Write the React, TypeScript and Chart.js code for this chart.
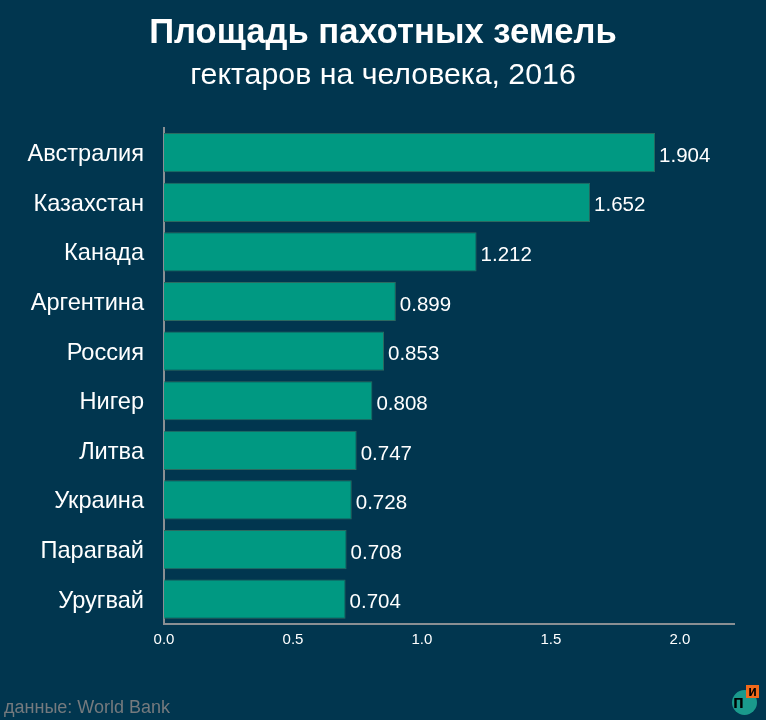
import React, { useEffect, useRef } from "react";
import { Chart, registerables } from "chart.js";

Chart.register(...registerables);

const categories = ["Австралия", "Казахстан", "Канада", "Аргентина", "Россия", "Нигер", "Литва", "Украина", "Парагвай", "Уругвай"];
const values = [1.904, 1.652, 1.212, 0.899, 0.853, 0.808, 0.747, 0.728, 0.708, 0.704];
const xTicks = [0, 0.5, 1.0, 1.5, 2.0];
const titleText = "Площадь пахотных земель";
const subtitleText = "гектаров на человека, 2016";
const sourceText = "данные: World Bank";

const BG = "#01364f";
const FONT = "'Liberation Sans', Arial, Helvetica, sans-serif";

export default function App() {
  const ref = useRef<HTMLCanvasElement | null>(null);

  useEffect(() => {
    document.body.style.margin = "0";
    const canvas = ref.current;
    if (!canvas) return;

    const valueLabels = {
      id: "valueLabels",
      afterDatasetsDraw(chart: any) {
        const ctx = chart.ctx;
        const meta = chart.getDatasetMeta(0);
        ctx.save();
        ctx.fillStyle = "#ffffff";
        ctx.font = `20.5px ${FONT}`;
        ctx.textBaseline = "middle";
        ctx.textAlign = "left";
        meta.data.forEach((bar: any, i: number) => {
          ctx.fillText(values[i].toFixed(3), bar.x + 4, bar.y + 3.5);
        });
        ctx.restore();
      },
    };

    const sourcePlugin = {
      id: "sourceText",
      afterDraw(chart: any) {
        const ctx = chart.ctx;
        ctx.save();
        ctx.fillStyle = "#757a7e";
        ctx.font = `18px ${FONT}`;
        ctx.textBaseline = "middle";
        ctx.textAlign = "left";
        ctx.fillText(sourceText, 4, 708);
        ctx.restore();
      },
    };

    const bgPlugin = {
      id: "bg",
      beforeDraw(chart: any) {
        const ctx = chart.ctx;
        ctx.save();
        ctx.fillStyle = BG;
        ctx.fillRect(0, 0, chart.width, chart.height);
        ctx.restore();
      },
    };

    const chart = new Chart(canvas, {
      type: "bar",
      data: {
        labels: categories,
        datasets: [
          {
            data: values,
            backgroundColor: "#009982",
            borderColor: "#2b6a60",
            borderWidth: 1,
            barPercentage: 0.79,
            categoryPercentage: 1,
          },
        ],
      },
      options: {
        indexAxis: "y",
        animation: false,
        responsive: false,
        maintainAspectRatio: false,
        layout: { padding: 0 },
        plugins: {
          legend: { display: false },
          tooltip: { enabled: false },
          title: {
            display: true,
            text: titleText,
            color: "#ffffff",
            font: { family: FONT, size: 34.6, weight: "bold" },
            padding: { top: 13, bottom: 0 },
          },
          subtitle: {
            display: true,
            text: subtitleText,
            color: "#ffffff",
            font: { family: FONT, size: 30.3, weight: "normal" },
            padding: { top: 3, bottom: 34 },
          },
        },
        scales: {
          x: {
            type: "linear",
            min: 0,
            max: 2.21,
            afterBuildTicks(scale: any) {
              scale.ticks = xTicks.map((v) => ({ value: v }));
            },
            afterFit(scale: any) {
              scale.height = 96;
            },
            grid: { display: false, drawTicks: false },
            border: { display: true, color: "#8a8f93", width: 2 },
            ticks: {
              color: "#ffffff",
              font: { family: FONT, size: 15 },
              padding: 7,
              maxRotation: 0,
              callback: (v: any) => Number(v).toFixed(1),
            },
          },
          y: {
            afterFit(scale: any) {
              scale.width = 164;
            },
            grid: { display: false, drawTicks: false },
            border: { display: true, color: "#8a8f93", width: 2 },
            ticks: {
              color: "#ffffff",
              font: { family: FONT, size: 23.6 },
              padding: 20,
              labelOffset: 2,
            },
          },
          yRight: {
            type: "category",
            position: "right",
            display: true,
            afterFit(scale: any) {
              scale.width = 32;
            },
            grid: { display: false, drawTicks: false },
            border: { display: false },
            ticks: { display: false },
          },
        },
      },
      plugins: [bgPlugin, valueLabels, sourcePlugin],
    });

    return () => chart.destroy();
  }, []);

  return (
    <div style={{ position: "relative", width: 766, height: 720, background: BG }}>
      <canvas ref={ref} width={766} height={720} style={{ display: "block", width: 766, height: 720 }} />
      <div style={{ position: "absolute", left: 728, top: 682, width: 34, height: 34 }}>
        <div style={{ position: "absolute", left: 4, top: 8, width: 25, height: 25, borderRadius: "50%", background: "#1a9a8c" }} />
        <div style={{ position: "absolute", left: 18, top: 3, width: 13, height: 13, background: "#f26a1b", color: "#000", fontFamily: FONT, fontWeight: "bold", fontSize: 14, lineHeight: "12px", textAlign: "center" }}>и</div>
        <div style={{ position: "absolute", left: 5, top: 11, color: "#000", fontFamily: FONT, fontWeight: "bold", fontSize: 18, lineHeight: "18px" }}>п</div>
      </div>
    </div>
  );
}
